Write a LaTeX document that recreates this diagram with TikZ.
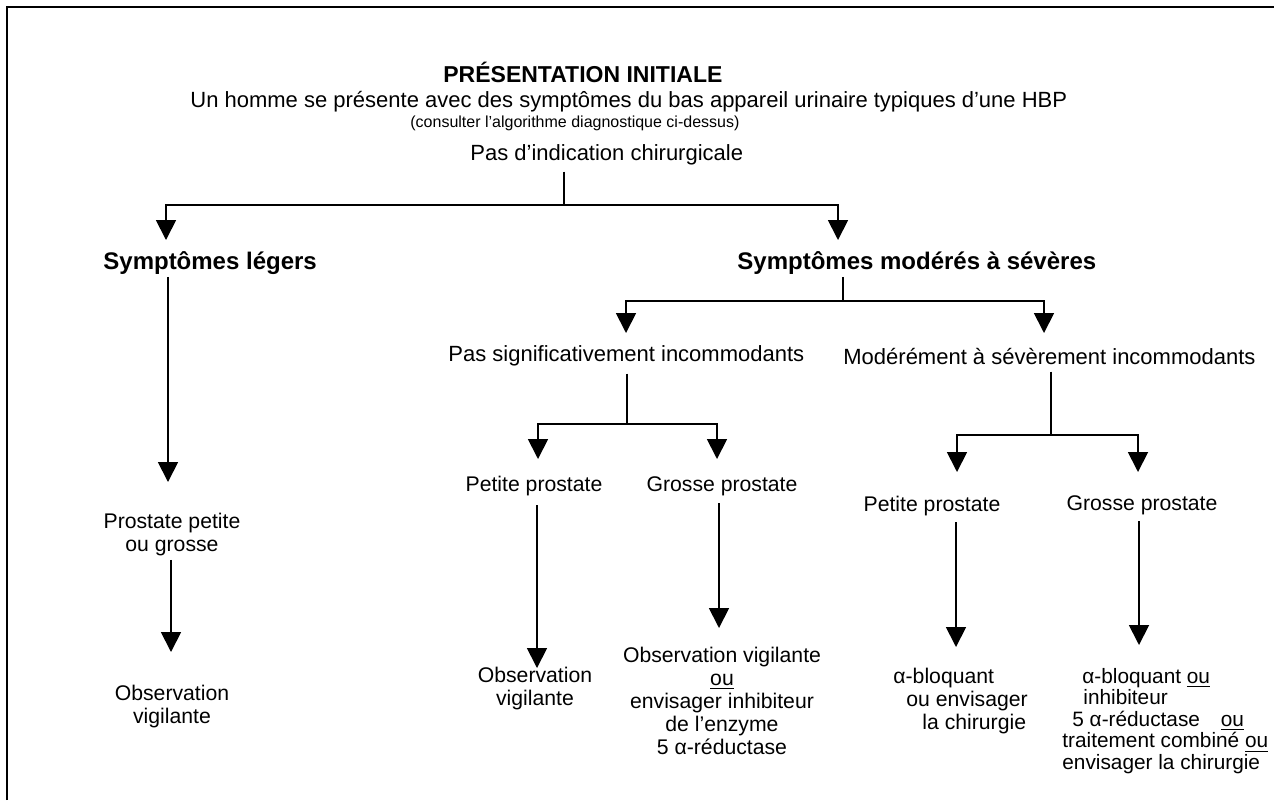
\documentclass[tikz,border=0pt]{standalone}
\usepackage{fontspec}
\setmainfont{Liberation Sans}
\usetikzlibrary{arrows.meta}
\begin{document}
\begin{tikzpicture}[x=0.5pt,y=-0.5pt,
  txt/.style={inner sep=0pt, font=\fontsize{11}{11.5}\selectfont, align=center},
  low/.style={inner sep=0pt, font=\fontsize{10.6}{11.5}\selectfont, align=center},
  bold/.style={inner sep=0pt, font=\fontsize{12}{14}\selectfont\bfseries},
  ln/.style={line width=0.8pt},
  arr/.style={line width=0.9pt,-{Triangle[width=10pt,length=10pt]}}]
\useasboundingbox (0,0) rectangle (1274,800);
\draw[ln] (7,800) -- (7,7) -- (1274,7);

% header
\node[inner sep=0pt,font=\fontsize{11.5}{13}\selectfont\bfseries,anchor=west] (title) at (443,72) {PRÉSENTATION INITIALE};
\node[txt,anchor=west] (l1) at (190,102) {Un homme se présente avec des symptômes du bas appareil urinaire typiques d’une HBP};
\node[inner sep=0pt,font=\fontsize{8}{9}\selectfont,anchor=west] (l2) at (410,123) {(consulter l’algorithme diagnostique ci-dessus)};
\node[txt,anchor=west] (pas) at (470,155) {Pas d’indication chirurgicale};

\coordinate (j0) at (564,205);
\coordinate (tL) at (166,240);
\coordinate (tR) at (838,240);
\draw[ln,shorten <=3pt] (pas.south -| j0) -- (j0);
\draw[arr] (j0) -| (tL);
\draw[arr] (j0) -| (tR);

\node[bold,anchor=west] (sl) at (103,263) {Symptômes légers};
\node[bold,anchor=west] (sm) at (737,263) {Symptômes modérés à sévères};

% left column
\coordinate (t2) at (168,482);
\draw[arr,shorten <=1pt] (sl.south -| t2) -- (t2);
\node[low] (pp) at (172,535) {Prostate petite\\ou grosse};
\coordinate (t3) at (171,652);
\draw[arr,shorten <=1.5pt] (pp.south -| t3) -- (t3);
\node[low] (ov1) at (172,707) {Observation\\vigilante};

% right branch
\coordinate (j1) at (843,301);
\coordinate (t4) at (626,333);
\coordinate (t5) at (1044,333);
\draw[ln,shorten <=1pt] (sm.south -| j1) -- (j1);
\draw[arr] (j1) -| (t4);
\draw[arr] (j1) -| (t5);
\node[txt,anchor=west] (psi) at (448,356) {Pas significativement incommodants};
\node[txt,anchor=west] (msi) at (843,356) {Modérément à sévèrement incommodants};

% not significantly bothersome
\coordinate (j2) at (627,424);
\coordinate (t6) at (538,459);
\coordinate (t7) at (717,459);
\draw[ln,shorten <=3.5pt] (psi.south -| j2) -- (j2);
\draw[arr] (j2) -| (t6);
\draw[arr] (j2) -| (t7);
\node[low] (pp1) at (534,486) {Petite prostate};
\node[low] (gp1) at (722,486) {Grosse prostate};
\coordinate (t8) at (537,668);
\coordinate (t9) at (719,628);
\draw[arr,shorten <=4.5pt] (pp1.south -| t8) -- (t8);
\draw[arr,shorten <=3.5pt] (gp1.south -| t9) -- (t9);
\node[low] (ov2) at (535,689) {Observation\\vigilante};
\node[low] (ov3) at (722,701) {Observation vigilante\\\underline{ou}\\envisager inhibiteur\\de l’enzyme\\5 α-réductase};

% moderately to severely bothersome
\coordinate (j3) at (1051,435);
\coordinate (t10) at (957,472);
\coordinate (t11) at (1138,472);
\draw[ln,shorten <=3.5pt] (msi.south -| j3) -- (j3);
\draw[arr] (j3) -| (t10);
\draw[arr] (j3) -| (t11);
\node[low] (pp2) at (932,506) {Petite prostate};
\node[low] (gp2) at (1142,505) {Grosse prostate};
\coordinate (t12) at (956,647);
\coordinate (t13) at (1139,645);
\draw[arr,shorten <=3pt] (pp2.south -| t12) -- (t12);
\draw[arr,shorten <=3pt] (gp2.south -| t13) -- (t13);
\node[low,align=left,anchor=west] (ab1) at (893,701) {α-bloquant\\\hspace*{6.5pt}ou envisager\\\hspace*{14.5pt}la chirurgie};
\node[inner sep=0pt,font=\fontsize{10.4}{10.8}\selectfont,align=left,anchor=west] (ab2) at (1062,721) {\hspace*{10pt}α-bloquant \underline{ou}\\\hspace*{10.5pt}inhibiteur\\\hspace*{5pt}5 α-réductase\quad\underline{ou}\\traitement combiné \underline{ou}\\envisager la chirurgie};
\end{tikzpicture}
\end{document}
